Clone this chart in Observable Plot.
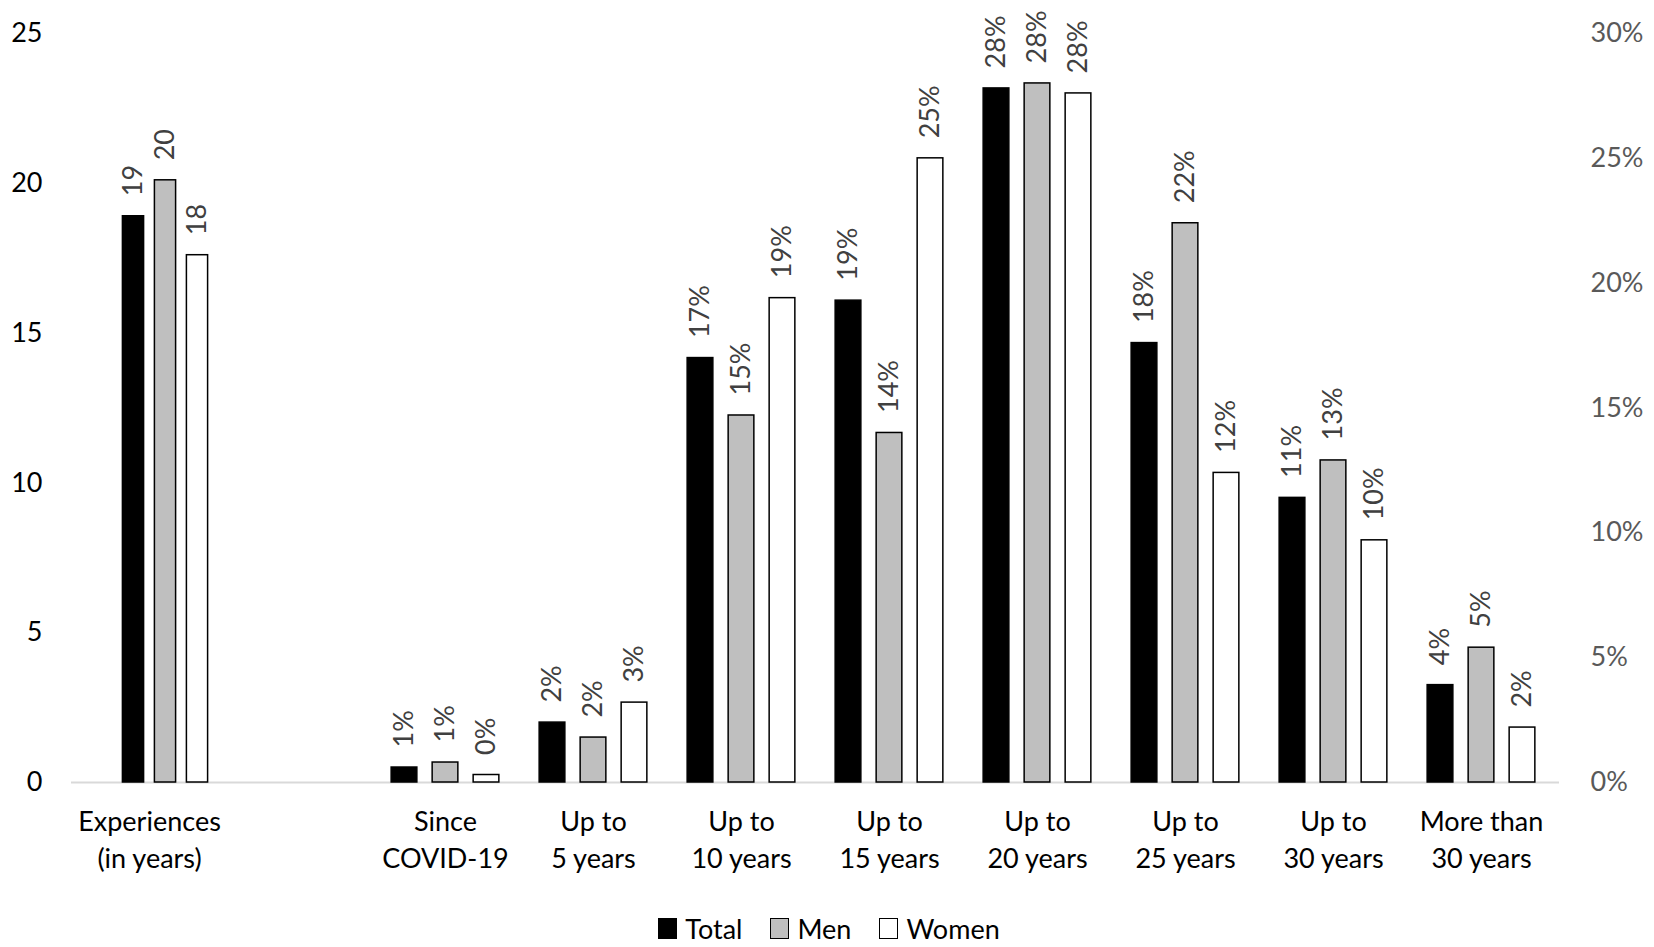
<!DOCTYPE html>
<html>
<head>
<meta charset="utf-8">
<script src="https://cdn.jsdelivr.net/npm/d3@7"></script>
<script src="https://cdn.jsdelivr.net/npm/@observablehq/plot@0.6"></script>
<style>
  body { margin: 0; background: #fff; font-family: Lato, "Open Sans", sans-serif; }
  #chart svg { display: block; }
  #legend { display: flex; justify-content: center; align-items: center; height: 47px; font-size: 27px; color: #000; padding-left: 4px; padding-top: 10px; box-sizing: border-box; }
  .item { display: flex; align-items: center; margin: 0 14px; }
  .sw { width: 17px; height: 19px; border: 1.5px solid #000; margin-right: 8px; box-sizing: content-box; }
</style>
</head>
<body>
<div id="chart"></div>
<div id="legend"></div>
<script>
// ---- data ----
const categories = ["exp", "gap", "covid", "5", "10", "15", "20", "25", "30", "30+"];
const categoryLabels = ["Experiences\n(in years)", "", "Since\nCOVID-19", "Up to\n5 years", "Up to\n10 years", "Up to\n15 years", "Up to\n20 years", "Up to\n25 years", "Up to\n30 years", "More than\n30 years"];
const series = ["Total", "Men", "Women"];
const seriesFill = ["#000000", "#bfbfbf", "#ffffff"];

// mean experience in years (left axis)
const experienceYears = [18.9, 20.1, 17.6];

// share of respondents per experience band (right axis, %)
const pctCategories = ["covid", "5", "10", "15", "20", "25", "30", "30+"];
const pctTotal = [0.6, 2.4, 17.0, 19.3, 27.8, 17.6, 11.4, 3.9];
const pctMen   = [0.8, 1.8, 14.7, 14.0, 28.0, 22.4, 12.9, 5.4];
const pctWomen = [0.3, 3.2, 19.4, 25.0, 27.6, 12.4, 9.7, 2.2];

const leftTicks = [0, 5, 10, 15, 20, 25];
const rightTicks = [0, 5, 10, 15, 20, 25, 30];

// ---- layout ----
const W = 1654, H = 900, ML = 71, MR = 95, MT = 33, MB = 118;
const leftMax = 25, rightMax = 30;
const toLeft = p => p * leftMax / rightMax;
const slotW = (W - ML - MR) / categories.length;

const pctBySeries = [pctTotal, pctMen, pctWomen];
const rows = [];
series.forEach((s, si) => {
  rows.push({cat: "exp", series: s, si, group: "years", v: experienceYears[si], label: String(Math.round(experienceYears[si]))});
  pctCategories.forEach((c, ci) => {
    const p = pctBySeries[si][ci];
    rows.push({cat: c, series: s, si, group: "pct", v: toLeft(p), label: Math.round(p) + "%"});
  });
});

// bar geometry within a category slot
const geom = {
  years: {step: 32, width: 22, shift: -0.5},
  pct:   {step: 41, width: 26.5, shift: -1}
};

const marks = [Plot.ruleY([0], {stroke: "#d9d9d9", strokeWidth: 2})];
for (const g of ["years", "pct"]) {
  series.forEach((s, si) => {
    const {step, width, shift} = geom[g];
    const c = (si + shift) * step;
    const data = rows.filter(r => r.group === g && r.si === si);
    marks.push(Plot.barY(data, {
      x: "cat", y: "v",
      fill: seriesFill[si], stroke: "#000", strokeWidth: 1.5,
      insetLeft: slotW / 2 + c - width / 2,
      insetRight: slotW / 2 - c - width / 2
    }));
    marks.push(Plot.text(data, {
      x: "cat", y: "v", text: "label",
      rotate: -90, textAnchor: "start", lineAnchor: "middle",
      dx: c, dy: -20, fill: "#404040", fontSize: 27
    }));
  });
}
// right-hand percentage axis
marks.push(Plot.text(rightTicks, {
  y: d => toLeft(d), text: d => d + "%", frameAnchor: "right",
  textAnchor: "start", dx: 31, fill: "#595959", fontSize: 27
}));

const chart = Plot.plot({
  width: W, height: H,
  marginLeft: ML, marginRight: MR, marginTop: MT, marginBottom: MB,
  style: {fontFamily: "Lato, 'Open Sans', sans-serif", fontSize: "27px", color: "#000", background: "#fff"},
  x: {domain: categories, padding: 0, label: null},
  y: {domain: [0, leftMax], label: null},
  marks: [
    Plot.axisX({tickSize: 0, tickPadding: 22, lineHeight: 1.37, fill: "#000",
      tickFormat: d => categoryLabels[categories.indexOf(d)], label: null}),
    Plot.axisY(leftTicks, {tickSize: 0, tickPadding: 29, fill: "#000", label: null}),
    ...marks
  ]
});
document.getElementById("chart").appendChild(chart);

const legend = document.getElementById("legend");
series.forEach((s, si) => {
  const it = document.createElement("div");
  it.className = "item";
  const sw = document.createElement("span");
  sw.className = "sw";
  sw.style.background = seriesFill[si];
  const t = document.createElement("span");
  t.textContent = s;
  it.appendChild(sw); it.appendChild(t);
  legend.appendChild(it);
});
</script>
</body>
</html>
